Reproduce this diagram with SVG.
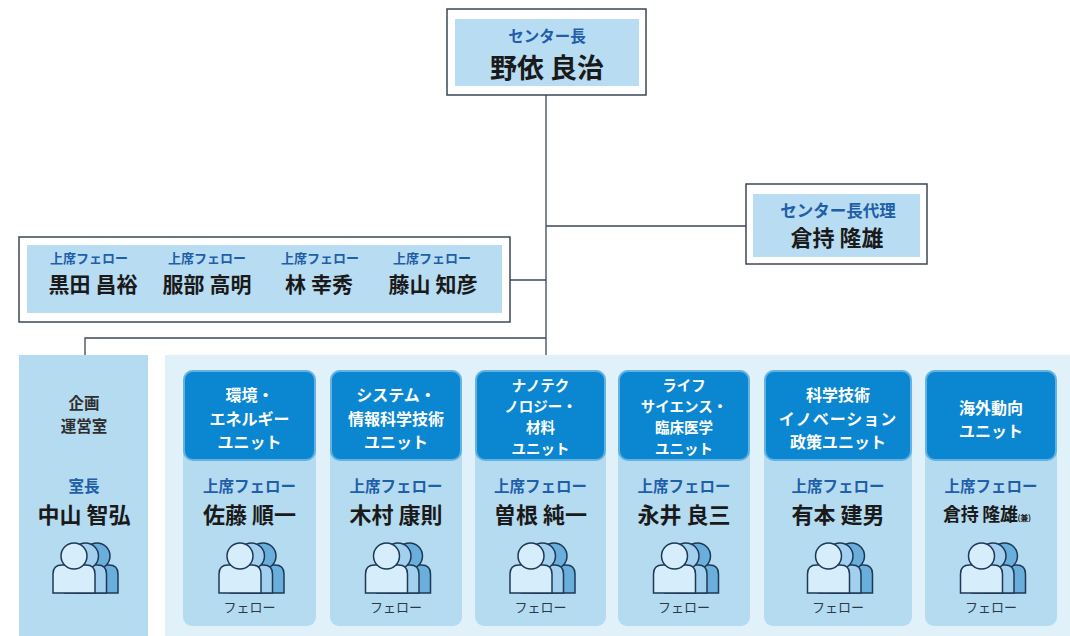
<svg xmlns="http://www.w3.org/2000/svg" xmlns:xlink="http://www.w3.org/1999/xlink" width="1070" height="636" viewBox="0 0 1070 636">
<style>
text{font-family:"Noto Sans CJK JP","Noto Sans CJK SC",sans-serif;dominant-baseline:central;text-anchor:middle}
.lbl{fill:#1f5ea8;font-size:15.5px;font-weight:700}
.lbls{fill:#1f5ea8;font-size:13px;font-weight:700}
.nm{fill:#1a1a1a;font-size:22px;font-weight:700}
.nms{fill:#1a1a1a;font-size:21px;font-weight:700}
.nmL{fill:#1a1a1a;font-size:27px;font-weight:700}
.hd{fill:#ffffff;font-size:16px;font-weight:700}
.hd4{fill:#ffffff;font-size:14.5px;font-weight:700}
.fl{fill:#2a3a4a;font-size:13px}
.outer{fill:#ffffff;stroke:#3b4756;stroke-width:1.5}
.inner{fill:#b8dcf2}
.card{fill:#b5dbf1}
.head{fill:#0b86d0;stroke:#62b2e4;stroke-width:2}
.ln{stroke:#3b4756;stroke-width:1.3;fill:none}
.pp{stroke:#1e3856;stroke-width:1.5}
</style>
<defs>
<g id="ppl">
<path class="pp" fill="#6aaedb" d="M-9,25 V6 Q-9,-3 0,-3 H24 Q33,-3 33,6 V25 Z"/>
<circle class="pp" fill="#6aaedb" cx="12" cy="-12" r="13"/>
<path class="pp" fill="#a3d0ee" d="M-20.5,25 V6 Q-20.5,-3 -11.5,-3 H12.5 Q21.5,-3 21.5,6 V25 Z"/>
<circle class="pp" fill="#a3d0ee" cx="0.5" cy="-12" r="13"/>
<path class="pp" fill="#d6edfb" d="M-32,25 V6 Q-32,-3 -23,-3 H1 Q10,-3 10,6 V25 Z"/>
<circle class="pp" fill="#d6edfb" cx="-11" cy="-12" r="13"/>
</g>
</defs>
<rect width="1070" height="636" fill="#ffffff"/>

<g id="connectors">
<line class="ln" x1="546" y1="95" x2="546" y2="355"/>
<line class="ln" x1="546" y1="226" x2="746" y2="226"/>
<line class="ln" x1="510" y1="280" x2="546" y2="280"/>
<polyline class="ln" points="85,355 85,338 546,338"/>
</g>

<g id="director">
<rect class="outer" x="447" y="9" width="199" height="86"/>
<rect class="inner" x="455" y="19" width="184" height="67"/>
<text class="lbl" x="547" y="35">センター長</text>
<text class="nmL" x="547" y="66">野依 良治</text>
</g>

<g id="deputy">
<rect class="outer" x="746" y="184" width="181" height="80"/>
<rect class="inner" x="753" y="194" width="167" height="63"/>
<text class="lbl" x="838" y="210" style="font-size:16.5px">センター長代理</text>
<text class="nm" x="837" y="236">倉持 隆雄</text>
</g>

<g id="senior-fellows">
<rect class="outer" x="19" y="237" width="491" height="85"/>
<rect class="inner" x="27" y="245" width="475" height="68"/>
<text class="lbls" x="89" y="257">上席フェロー</text>
<text class="nms" x="93" y="283">黒田 昌裕</text>
<text class="lbls" x="207" y="257">上席フェロー</text>
<text class="nms" x="207" y="283">服部 高明</text>
<text class="lbls" x="320" y="257">上席フェロー</text>
<text class="nms" x="319" y="283">林 幸秀</text>
<text class="lbls" x="432" y="257">上席フェロー</text>
<text class="nms" x="433" y="283">藤山 知彦</text>
</g>

<g id="planning">
<rect class="card" x="19" y="355" width="129" height="281"/>
<text x="84" y="402" style="fill:#2e2e2e;font-size:15.5px;font-weight:700"><tspan x="84" y="402">企画</tspan><tspan x="84" y="425">運営室</tspan></text>
<text class="lbl" x="84" y="485">室長</text>
<text class="nm" x="84" y="513">中山 智弘</text>
<use xlink:href="#ppl" x="85" y="568"/>
</g>

<g id="units-panel">
<rect x="165" y="355" width="905" height="281" fill="#e0f1fa"/>
</g>

<g id="unit1">
<rect class="card" x="183" y="370" width="133" height="256" rx="9"/>
<rect class="head" x="184" y="371" width="131" height="89" rx="9"/>
<text class="hd" x="249.5" y="394"><tspan x="249.5" y="394">環境・</tspan><tspan x="249.5" y="417.5">エネルギー</tspan><tspan x="249.5" y="441">ユニット</tspan></text>
<text class="lbl" x="249.5" y="485">上席フェロー</text>
<text class="nm" x="249.5" y="513">佐藤 順一</text>
<use xlink:href="#ppl" x="251" y="568"/>
<text class="fl" x="249.5" y="606">フェロー</text>
</g>

<g id="unit2">
<rect class="card" x="330" y="370" width="132" height="256" rx="9"/>
<rect class="head" x="331" y="371" width="130" height="89" rx="9"/>
<text class="hd" x="396" y="394"><tspan x="396" y="394">システム・</tspan><tspan x="396" y="417.5">情報科学技術</tspan><tspan x="396" y="441">ユニット</tspan></text>
<text class="lbl" x="396" y="485">上席フェロー</text>
<text class="nm" x="396" y="513">木村 康則</text>
<use xlink:href="#ppl" x="397.5" y="568"/>
<text class="fl" x="396" y="606">フェロー</text>
</g>

<g id="unit3">
<rect class="card" x="475" y="370" width="131" height="256" rx="9"/>
<rect class="head" x="476" y="371" width="129" height="89" rx="9"/>
<text class="hd4" x="540.5" y="383.5"><tspan x="540.5" y="383.5">ナノテク</tspan><tspan x="540.5" y="404.5">ノロジー・</tspan><tspan x="540.5" y="425.5">材料</tspan><tspan x="540.5" y="446.5">ユニット</tspan></text>
<text class="lbl" x="540.5" y="485">上席フェロー</text>
<text class="nm" x="540.5" y="513">曽根 純一</text>
<use xlink:href="#ppl" x="542" y="568"/>
<text class="fl" x="540.5" y="606">フェロー</text>
</g>

<g id="unit4">
<rect class="card" x="618" y="370" width="132" height="256" rx="9"/>
<rect class="head" x="619" y="371" width="130" height="89" rx="9"/>
<text class="hd4" x="684" y="384"><tspan x="684" y="384">ライフ</tspan><tspan x="684" y="405">サイエンス・</tspan><tspan x="684" y="426">臨床医学</tspan><tspan x="684" y="447">ユニット</tspan></text>
<text class="lbl" x="684" y="485">上席フェロー</text>
<text class="nm" x="684" y="513">永井 良三</text>
<use xlink:href="#ppl" x="685.5" y="568"/>
<text class="fl" x="684" y="606">フェロー</text>
</g>

<g id="unit5">
<rect class="card" x="764" y="370" width="148" height="256" rx="9"/>
<rect class="head" x="765" y="371" width="146" height="89" rx="9"/>
<text class="hd" x="838" y="394"><tspan x="838" y="394">科学技術</tspan><tspan x="838" y="417.5" style="letter-spacing:1px">イノベーション</tspan><tspan x="838" y="441">政策ユニット</tspan></text>
<text class="lbl" x="838" y="485">上席フェロー</text>
<text class="nm" x="838" y="513">有本 建男</text>
<use xlink:href="#ppl" x="839.5" y="568"/>
<text class="fl" x="838" y="606">フェロー</text>
</g>

<g id="unit6">
<rect class="card" x="925" y="370" width="132" height="256" rx="9"/>
<rect class="head" x="926" y="371" width="130" height="89" rx="9"/>
<text class="hd" x="991" y="406.5"><tspan x="991" y="406.5">海外動向</tspan><tspan x="991" y="430">ユニット</tspan></text>
<text class="lbl" x="991" y="485">上席フェロー</text>
<text class="nm" x="943" y="513" style="text-anchor:start;font-size:18px;letter-spacing:-0.3px">倉持 隆雄<tspan style="font-size:8px" dy="4">(兼)</tspan></text>
<use xlink:href="#ppl" x="992.5" y="568"/>
<text class="fl" x="991" y="606">フェロー</text>
</g>
</svg>
